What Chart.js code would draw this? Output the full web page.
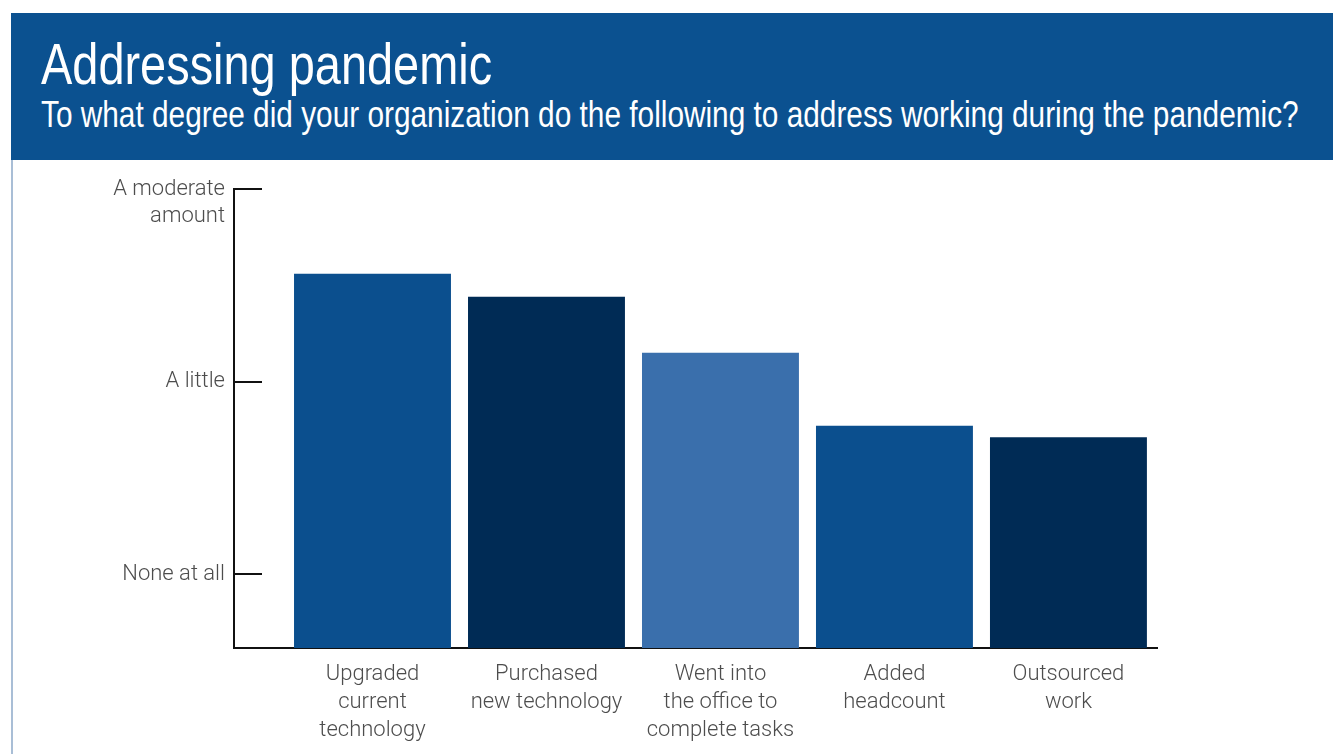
<!DOCTYPE html>
<html>
<head>
<meta charset="utf-8">
<title>Addressing pandemic</title>
<script src="https://cdn.jsdelivr.net/npm/chart.js@4/dist/chart.umd.min.js"></script>
<style>
  html, body { margin: 0; padding: 0; background: #fff; width: 1333px; height: 754px; overflow: hidden; }
  .band { position: absolute; left: 11px; top: 13px; width: 1322px; height: 147px; background: #0b5190; }
  .edge { position: absolute; left: 11px; top: 160px; width: 2px; height: 594px; background: #a9bed6; }
  /* condensed look: regular sans squeezed horizontally */
  .title, .subtitle { position: absolute; left: 41px; color: #fff; white-space: nowrap;
    font-family: "Liberation Sans", Arial, sans-serif; line-height: 1; transform-origin: 0 0; }
  .title { top: 36px; font-size: 57px; transform: scaleX(0.823); }
  .subtitle { top: 97px; font-size: 36px; transform: scaleX(0.828); }
  .wrap { position: absolute; left: 13px; top: 160px; width: 1320px; height: 594px; }
</style>
</head>
<body>
<div class="band"></div>
<div class="edge"></div>
<div class="title">Addressing pandemic</div>
<div class="subtitle">To what degree did your organization do the following to address working during the pandemic?</div>
<div class="wrap"><canvas id="chart"></canvas></div>
<script>
// answers, one per action
const actions = [
  ['Upgraded', 'current', 'technology'],
  ['Purchased', 'new technology'],
  ['Went into', 'the office to', 'complete tasks'],
  ['Added', 'headcount'],
  ['Outsourced', 'work']
];
const degree = [2.56, 2.44, 2.15, 1.77, 1.71];
const barColors = ['#0b4f8e', '#002b55', '#3a6fac', '#0b4f8e', '#002b55'];

// answer scale: 1 = none at all .. 3 = a moderate amount
const scaleValues = [1, 2, 3];
// leading blank line pushes the two-line label down next to its tick
const scaleLabels = ['None at all', 'A little', ['', 'A moderate', 'amount']];

const labelFont = { family: 'Roboto, "Liberation Sans", sans-serif', size: 22, weight: 300, lineHeight: 1.27 };

// short tick marks pointing into the plot
const innerTicks = {
  id: 'innerTicks',
  afterDraw(chart) {
    const { ctx, chartArea, scales } = chart;
    ctx.save();
    ctx.strokeStyle = '#111';
    ctx.lineWidth = 2;
    scaleValues.forEach(v => {
      const y = Math.round(scales.y.getPixelForValue(v));
      ctx.beginPath();
      ctx.moveTo(chartArea.left, y);
      ctx.lineTo(chartArea.left + 28, y);
      ctx.stroke();
    });
    ctx.restore();
  }
};

new Chart(document.getElementById('chart'), {
  type: 'bar',
  data: {
    datasets: [{
      data: degree.map((v, i) => ({ x: i, y: v })),
      backgroundColor: barColors,
      borderWidth: 0,
      barPercentage: 0.902,
      categoryPercentage: 1
    }]
  },
  options: {
    responsive: true,
    maintainAspectRatio: false,
    animation: false,
    layout: { padding: { top: 29, right: 176, left: 0, bottom: 0 } },
    plugins: { legend: { display: false }, tooltip: { enabled: false } },
    scales: {
      x: {
        type: 'linear',
        offset: false,
        min: -0.796,
        max: 4.509,
        grid: { display: false, drawTicks: false },
        border: { display: true, color: '#111', width: 2 },
        afterBuildTicks: s => { s.ticks = actions.map((_, i) => ({ value: i })); },
        afterFit: s => { s.height = 106; s.paddingLeft = 0; s.paddingRight = 0; },
        ticks: {
          autoSkip: false,
          maxRotation: 0,
          padding: 13,
          color: '#4d4d4d',
          font: labelFont,
          callback: v => actions[v]
        }
      },
      y: {
        min: 0.6156,
        max: 3,
        grid: { display: false, drawTicks: false },
        border: { display: true, color: '#111', width: 2 },
        afterBuildTicks: s => { s.ticks = scaleValues.map(v => ({ value: v })); },
        afterFit: s => { s.width = 221; s.paddingTop = 0; s.paddingBottom = 0; },
        ticks: {
          padding: 9,
          color: '#4d4d4d',
          font: labelFont,
          callback: v => scaleLabels[scaleValues.indexOf(v)]
        }
      }
    }
  },
  plugins: [innerTicks]
});
</script>
</body>
</html>
